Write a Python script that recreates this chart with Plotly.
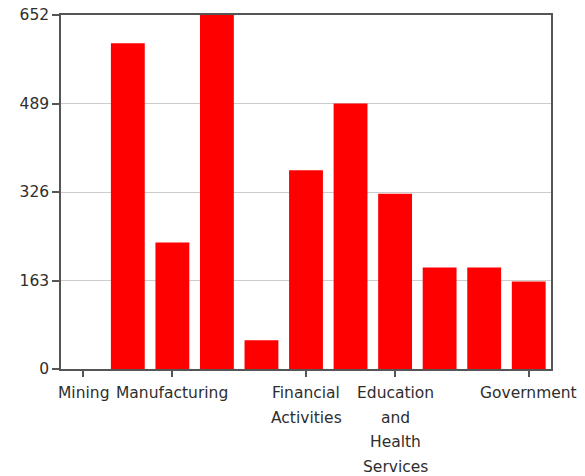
import plotly.graph_objects as go

# Employment by sector (thousands)
sectors = [
    "Mining",
    "Construction",
    "Manufacturing",
    "Trade, Transportation and Utilities",
    "Information",
    "Financial Activities",
    "Professional and Business Services",
    "Education and Health Services",
    "Leisure and Hospitality",
    "Other Services",
    "Government",
]
employment = [0, 600, 233, 652, 53, 366, 489, 323, 187, 187, 161]

# Sectors that carry a printed label, and the lines of each label
labelled = ["Mining", "Manufacturing", "Financial Activities",
            "Education and Health Services", "Government"]
label_lines = [
    ["Mining"],
    ["Manufacturing"],
    ["Financial", "Activities"],
    ["Education", "and", "Health", "Services"],
    ["Government"],
]

y_ticks = [0, 163, 326, 489, 652]

FONT = "DejaVu Sans"
FONT_SIZE = 15.5
TEXT = "#2e2e2e"
AXIS = "#555555"

fig = go.Figure(
    go.Bar(
        x=sectors,
        y=employment,
        marker=dict(color="#ff0000", line=dict(width=0)),
    )
)

annotations = []
for name, lines in zip(labelled, label_lines):
    for i, line in enumerate(lines):
        annotations.append(dict(
            x=name, xref="x", y=0, yref="paper",
            text=line, showarrow=False,
            xanchor="center", yanchor="middle",
            yshift=-24 - 24.7 * i,
            font=dict(family=FONT, size=FONT_SIZE, color=TEXT),
        ))

fig.update_layout(
    width=585,
    height=476,
    autosize=False,
    margin=dict(l=61, r=34, t=15, b=107, pad=0),
    paper_bgcolor="white",
    plot_bgcolor="white",
    bargap=0.24,
    showlegend=False,
    font=dict(family=FONT, size=FONT_SIZE, color=TEXT),
    annotations=annotations,
    xaxis=dict(
        type="category",
        range=[-0.5, len(sectors) - 0.5],
        autorange=False,
        tickmode="array",
        tickvals=labelled,
        showticklabels=False,
        ticks="outside",
        ticklen=6,
        tickwidth=1.5,
        tickcolor=AXIS,
        showgrid=False,
        showline=True,
        linecolor=AXIS,
        linewidth=1.5,
        mirror=True,
        automargin=False,
    ),
    yaxis=dict(
        range=[0, 652],
        autorange=False,
        tickmode="array",
        tickvals=y_ticks,
        ticktext=[str(v) for v in y_ticks],
        ticks="outside",
        ticklen=7,
        tickwidth=1.5,
        tickcolor=AXIS,
        showgrid=True,
        gridcolor="#cccccc",
        gridwidth=1,
        zeroline=False,
        showline=True,
        linecolor=AXIS,
        linewidth=1.5,
        mirror=True,
        automargin=False,
        tickfont=dict(family=FONT, size=FONT_SIZE, color=TEXT),
    ),
)

fig.write_html("out.html")
